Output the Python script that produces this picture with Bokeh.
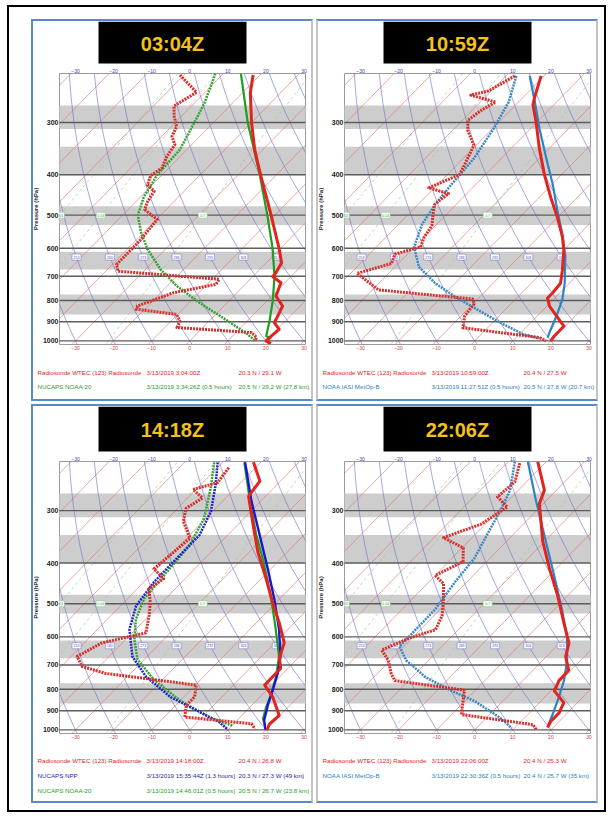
import numpy as np
from bokeh.plotting import figure
from bokeh.layouts import column, row
from bokeh.models import Range1d, LinearAxis, FixedTicker
from bokeh.core.properties import value
from bokeh.embed import file_html
from bokeh.resources import INLINE

# ---------------- data (pressure hPa, temperature degC) ----------------
# Panel 1 : 03:04Z  radiosonde + NUCAPS NOAA-20
p1_sonde_p = [231, 255, 300, 349, 400, 451, 500, 546, 600, 650, 687, 702, 726, 781, 825, 872, 904, 938, 982, 1000, 1015]
p1_sonde_T = [-51.8, -47.9, -40.0, -32.1, -24.2, -17.1, -11.0, -5.9, -0.4, 4.0, 5.1, 5.3, 9.0, 11.1, 15.4, 16.7, 17.5, 20.5, 20.1, 20.1, 22.0]
p1_sonde_td_p = [231, 254, 274, 290, 307, 324, 339, 362, 386, 402, 423, 438, 467, 485, 512, 541, 572, 604, 656, 681, 712, 732, 767, 825, 840, 864, 896, 929, 955, 982, 1000]
p1_sonde_Td = [-71.0, -62.2, -64.6, -61.9, -58.6, -57.3, -54.4, -53.5, -51.8, -52.8, -51.3, -47.9, -46.8, -45.6, -39.8, -39.4, -38.9, -38.9, -38.9, -36.8, -8.1, -7.7, -16.7, -22.7, -22.2, -10.3, -7.7, -6.8, 14.1, 16.7, 17.1]
p1_n20_p = [229, 300, 400, 500, 600, 700, 800, 900, 973, 987]
p1_n20_T = [-55.4, -41.0, -24.4, -12.0, -2.1, 5.6, 11.4, 16.0, 18.8, 20.8]
p1_n20_td_p = [229, 270, 300, 349, 400, 451, 500, 551, 604, 674, 739, 810, 888, 955, 982, 1000]
p1_n20_Td = [-62.1, -57.3, -55.0, -51.8, -51.3, -49.2, -46.0, -40.6, -34.6, -26.1, -17.5, -7.3, 3.8, 12.4, 15.4, 17.1]

# Panel 2 : 10:59Z  radiosonde + NOAA IASI MetOp-B
p2_sonde_p = [232, 261, 272, 300, 346, 400, 454, 506, 564, 607, 677, 728, 769, 790, 826, 922, 973, 1000]
p2_sonde_T = [-50.8, -47.0, -45.5, -40.1, -32.6, -24.5, -16.9, -10.1, -3.7, 0.1, 4.8, 7.7, 8.1, 8.1, 10.7, 19.6, 19.6, 20.0]
p2_sonde_td_p = [232, 252, 258, 268, 281, 296, 313, 340, 379, 400, 430, 444, 471, 497, 530, 564, 596, 620, 653, 689, 755, 794, 815, 873, 930, 982, 1000]
p2_sonde_Td = [-57.7, -60.7, -64.3, -56.0, -57.7, -58.6, -56.1, -50.6, -48.0, -46.8, -51.5, -44.8, -45.7, -43.6, -40.9, -40.0, -38.4, -43.3, -41.8, -48.3, -38.4, -11.3, -9.7, -9.0, -6.5, 16.2, 18.7]
p2_iasi_p = [232, 268, 310, 365, 422, 488, 554, 629, 728, 797, 873, 956, 982]
p2_iasi_T = [-53.8, -45.7, -37.7, -28.3, -19.8, -11.8, -4.6, 2.1, 8.8, 12.4, 15.1, 17.5, 18.3]
p2_iasi_td_p = [232, 268, 310, 365, 422, 471, 525, 596, 665, 728, 783, 842, 905, 964, 987]
p2_iasi_Td = [-57.3, -52.6, -49.7, -47.2, -46.4, -45.5, -43.9, -40.1, -33.7, -25.2, -16.7, -7.3, 2.1, 11.0, 16.4]

# Panel 3 : 14:18Z  radiosonde + NUCAPS NPP + NUCAPS NOAA-20
p3_sonde_p = [230, 255, 277, 330, 376, 436, 497, 555, 620, 674, 713, 782, 834, 924, 967, 1000]
p3_sonde_T = [-51.9, -45.4, -44.5, -35.0, -27.8, -18.7, -10.9, -4.0, 2.5, 5.1, 8.1, 8.2, 13.3, 19.8, 19.4, 20.3]
p3_sonde_td_p = [237, 257, 267, 280, 296, 318, 349, 413, 436, 461, 497, 535, 587, 620, 668, 706, 733, 782, 834, 874, 932, 967, 994]
p3_sonde_Td = [-57.0, -56.1, -60.8, -56.1, -57.8, -55.2, -49.1, -50.7, -45.6, -46.9, -43.0, -39.9, -36.4, -45.4, -48.4, -44.5, -36.7, -9.8, -7.2, -7.2, -4.6, 14.7, 16.8]
p3_npp_p = [230, 285, 343, 413, 487, 576, 668, 733, 804, 874, 949, 1000]
p3_npp_T = [-54.1, -42.4, -31.6, -20.8, -11.4, -2.3, 5.0, 8.6, 11.6, 14.2, 17.1, 19.9]
p3_npp_td_p = [230, 260, 301, 343, 398, 444, 506, 576, 668, 746, 834, 898, 958, 994]
p3_npp_Td = [-61.3, -56.1, -50.5, -47.4, -47.4, -47.3, -45.9, -41.6, -33.9, -25.2, -13.6, -3.3, 5.7, 9.5]
p3_n20_p = [230, 285, 343, 398, 487, 565, 668, 746, 819, 882, 941, 976]
p3_n20_T = [-54.3, -42.8, -32.5, -23.6, -12.2, -4.2, 4.6, 9.0, 12.1, 14.2, 16.4, 18.6]
p3_n20_td_p = [230, 265, 313, 362, 420, 487, 545, 609, 680, 760, 850, 932, 976]
p3_n20_Td = [-62.2, -56.5, -50.5, -47.4, -46.5, -45.6, -42.5, -37.7, -31.7, -22.2, -10.2, 1.8, 10.0]

# Panel 4 : 22:06Z  radiosonde + NOAA IASI MetOp-B
p4_sonde_p = [229, 268, 289, 355, 412, 478, 555, 621, 669, 721, 763, 807, 861, 911, 954, 987]
p4_sonde_T = [-52.3, -43.2, -41.0, -30.5, -21.8, -12.7, -4.1, 2.5, 5.1, 9.4, 9.5, 10.9, 16.4, 17.8, 17.8, 18.5]
p4_sonde_td_p = [231, 256, 278, 294, 323, 348, 368, 397, 428, 448, 497, 535, 577, 604, 645, 682, 735, 763, 804, 853, 919, 972, 1000]
p4_sonde_Td = [-56.6, -53.1, -53.8, -48.6, -51.1, -57.5, -49.7, -46.2, -50.0, -45.7, -40.9, -37.8, -36.0, -40.7, -44.9, -40.6, -36.3, -33.6, -12.9, -10.5, -7.4, 14.0, 16.2]
p4_iasi_p = [229, 284, 355, 428, 516, 599, 682, 763, 838, 919, 982]
p4_iasi_T = [-54.9, -42.7, -29.7, -18.8, -8.0, 0.3, 6.4, 10.8, 13.8, 16.5, 18.3]
p4_iasi_td_p = [229, 268, 300, 336, 390, 444, 516, 599, 633, 682, 749, 807, 853, 937, 991]
p4_iasi_Td = [-58.3, -52.2, -49.5, -47.2, -44.1, -43.1, -41.3, -41.2, -41.1, -35.9, -26.4, -16.1, -7.5, 3.7, 9.3]

titles = ["03:04Z", "10:59Z", "14:18Z", "22:06Z"]
pressure_ticks = [300, 400, 500, 600, 700, 800, 900, 1000]
temp_ticks = [-30, -20, -10, 0, 10, 20, 30]
shaded_layers = [(273, 311), (343, 400), (476, 528), (612, 675), (774, 865)]
isotherms = list(range(-120, 50, 10))
adiabat_T0 = list(range(-60, 130, 10))
mixing_ratios = [0.01, 0.04, 0.7]

legend1 = [("#d9272a", ["Radiosonde WTEC  (123) Radiosonde", "3/13/2019 3:04:00Z", "20.3 N / 29.1 W"]),
           ("#2c9c2c", ["NUCAPS NOAA-20", "3/13/2019 3:34:26Z (0.5 hours)", "20.5 N / 29.2 W (27.8 km)"])]
legend2 = [("#d9272a", ["Radiosonde WTEC  (123) Radiosonde", "3/13/2019 10:59:00Z", "20.4 N / 27.5 W"]),
           ("#2e80c2", ["NOAA IASI MetOp-B", "3/13/2019 11:27:51Z (0.5 hours)", "20.5 N / 27.8 W (20.7 km)"])]
legend3 = [("#d9272a", ["Radiosonde WTEC  (123) Radiosonde", "3/13/2019 14:18:00Z", "20.4 N / 26.8 W"]),
           ("#1d1db8", ["NUCAPS NPP", "3/13/2019 15:35:44Z (1.3 hours)", "20.3 N / 27.3 W (49 km)"]),
           ("#2c9c2c", ["NUCAPS NOAA-20", "3/13/2019 14:46:01Z (0.5 hours)", "20.5 N / 26.7 W (23.8 km)"])]
legend4 = [("#d9272a", ["Radiosonde WTEC  (123) Radiosonde", "3/13/2019 22:06:00Z", "20.4 N / 25.3 W"]),
           ("#2e80c2", ["NOAA IASI MetOp-B", "3/13/2019 22:30:36Z (0.5 hours)", "20.4 N / 25.7 W (35 km)"])]

# ---------------- geometry / style ----------------
K = 46.7                    # skew (degC per ln-pressure unit)
X_RANGE = (-34.2, 30.4)
P_RANGE = (1020, 229)
PW = 278                    # panel inner width
SHIFT = 4                   # skew plot pulled left into the panel margin
FH = 272
BL, BR = 24, 2
FONT = "Liberation Sans"
RED, RED_D = "#e3231d", "#d8302b"
GREEN, GREEN_D = "#1f9f1f", "#34a334"
BLUE, BLUE_D = "#2b84c6", "#3a88c4"
NAVY, NAVY_D = "#1818d0", "#2424c8"
PANEL_BLUE = "#5b88c8"
PANEL_GRAY = "#c4c4c4"

def skew(T, p):
    p = np.asarray(p, dtype=float)
    return np.asarray(T, dtype=float) + K * np.log(1000.0 / p)

def blank(w, h):
    f = figure(width=w, height=h, x_range=Range1d(0, w), y_range=Range1d(h, 0), output_backend="svg",
               toolbar_location=None, min_border=0, min_border_left=0, min_border_right=0,
               min_border_top=0, min_border_bottom=0, x_axis_location=None, y_axis_location=None,
               outline_line_color=None, background_fill_color="white", border_fill_color="white")
    f.xgrid.visible = False
    f.ygrid.visible = False
    return f

def make_header(title, hh, box_h):
    h = blank(PW, hh)
    h.quad(left=[65], right=[213], top=[0], bottom=[box_h], fill_color="black", line_color=None)
    h.text(x=[139], y=[box_h / 2 + 1], text=[title], text_align="center", text_baseline="middle",
           text_color="#f4c21a", text_font_size="20px", text_font_style="bold", text_font=value(FONT))
    return h

def make_footer(legend, fh, row_y):
    f = blank(PW, fh)
    for (color, cols), ry in zip(legend, row_y):
        f.text(x=[4, 113, 205], y=[ry] * 3, text=cols, text_align="left", text_baseline="middle",
               text_color=color, text_font_size="6.2px", text_font=value(FONT))
    return f

def make_skew(profiles, bt, bb):
    p = figure(width=PW + SHIFT, height=bt + FH + bb, x_range=Range1d(*X_RANGE), y_range=Range1d(*P_RANGE),
               y_axis_type="log", output_backend="svg", toolbar_location=None,
               min_border_left=BL, min_border_right=BR, min_border_top=bt, min_border_bottom=bb,
               background_fill_color="white", border_fill_color=None,
               outline_line_color="#9a9a9a", outline_line_width=1)
    p.xgrid.visible = False
    p.ygrid.visible = False

    p.quad(left=-300, right=300, bottom=[a for a, b in shaded_layers], top=[b for a, b in shaded_layers],
           fill_color="#cdcdcd", line_color=None)
    pp = np.geomspace(1100, 200, 60)
    p.multi_line(xs=[list(skew(T, pp)) for T in isotherms], ys=[list(pp)] * len(isotherms),
                 line_color="#e07a7a", line_width=0.8, line_alpha=0.85)
    ad_xs = []
    for T0 in adiabat_T0:
        th = T0 + 273.15
        ad_xs.append(list(th * (pp / 1000.0) ** 0.2857 - 273.15 + K * np.log(1000.0 / pp)))
    p.multi_line(xs=ad_xs, ys=[list(pp)] * len(ad_xs), line_color="#7474c8", line_width=0.8, line_alpha=0.8)
    mr_xs = []
    for w in mixing_ratios:
        e = w * pp / (622.0 + w)
        le = np.log(e / 6.112)
        mr_xs.append(list(skew(243.5 * le / (17.67 - le), pp)))
    p.multi_line(xs=mr_xs, ys=[list(pp)] * len(mr_xs), line_color="#9ccc9c", line_width=0.8,
                 line_dash="3 3", line_alpha=0.9)
    p.segment(x0=-300, x1=300, y0=pressure_ticks, y1=pressure_ticks, line_color="#5c5c5c", line_width=1.4)

    pl = 630.0
    lab_x = [(T0 + 273.15) * (pl / 1000.0) ** 0.2857 - 273.15 + K * np.log(1000.0 / pl) for T0 in adiabat_T0]
    keep = [(x, f"{T0 + 273}") for x, T0 in zip(lab_x, adiabat_T0) if X_RANGE[0] + 1 < x < X_RANGE[1] - 1]
    p.rect(x=[k[0] for k in keep], y=[pl] * len(keep), width=9, height=6, width_units="screen",
           height_units="screen", fill_color="white", line_color="#8080d0", line_width=0.6)
    p.text(x=[k[0] for k in keep], y=[pl] * len(keep), text=[k[1] for k in keep], text_font_size="3.5px",
           text_align="center", text_baseline="middle", text_color="#5050b0")
    pm = 500.0
    mx = []
    for w in mixing_ratios:
        e = w * pm / (622.0 + w)
        le = np.log(e / 6.112)
        mx.append(float(skew(243.5 * le / (17.67 - le), pm)))
    p.rect(x=mx, y=[pm] * len(mx), width=9, height=6, width_units="screen", height_units="screen",
           fill_color="white", line_color="#8cc48c", line_width=0.6)
    p.text(x=mx, y=[pm] * len(mx), text=[str(w) for w in mixing_ratios], text_font_size="3.5px",
           text_align="center", text_baseline="middle", text_color="#4a9a4a")

    for pr in profiles:
        p.line(x=list(skew(pr["T"], pr["p"])), y=pr["p"], line_color=pr["color"], line_width=pr["width"],
               line_dash=pr.get("dash", "solid"), line_join="round")

    xa = p.xaxis[0]
    xa.ticker = FixedTicker(ticks=temp_ticks)
    xa.major_label_text_color = "#d04040"
    xa.major_label_text_font_size = "5px"
    xa.axis_line_color = None
    xa.major_tick_out = 0
    xa.major_tick_in = 0
    xa.minor_tick_out = 0
    xa.major_label_standoff = 1
    top = LinearAxis(ticker=FixedTicker(ticks=temp_ticks), major_label_text_color="#4040c0",
                     major_label_text_font_size="5px", axis_line_color=None, major_tick_out=0,
                     major_tick_in=0, minor_tick_out=0, minor_tick_in=0, major_label_standoff=1)
    p.add_layout(top, "above")
    ya = p.yaxis[0]
    ya.ticker = FixedTicker(ticks=pressure_ticks)
    ya.major_label_overrides = {t: str(t) for t in pressure_ticks}
    ya.major_label_text_font_size = "7px"
    ya.major_label_text_font_style = "bold"
    ya.major_label_text_font = FONT
    ya.major_label_text_color = "#222222"
    ya.axis_label = "Pressure (hPa)"
    ya.axis_label_text_font = FONT
    ya.axis_label_text_font_size = "6px"
    ya.axis_label_text_font_style = "bold"
    ya.axis_label_text_color = "#222222"
    ya.axis_label_standoff = 1
    ya.axis_line_color = None
    ya.major_tick_out = 0
    ya.major_tick_in = 0
    ya.minor_tick_out = 0
    ya.minor_tick_in = 0
    ya.major_label_standoff = 1
    return p

def prof(pv, T, color, width, dash="solid"):
    return dict(p=pv, T=T, color=color, width=width, dash=dash)

panel_profiles = [
    [prof(p1_n20_td_p, p1_n20_Td, GREEN_D, 2.5, "2 1"), prof(p1_n20_p, p1_n20_T, GREEN, 2.2),
     prof(p1_sonde_td_p, p1_sonde_Td, RED_D, 3, "2 1"), prof(p1_sonde_p, p1_sonde_T, RED, 3)],
    [prof(p2_iasi_td_p, p2_iasi_Td, BLUE_D, 2.5, "2 1"), prof(p2_iasi_p, p2_iasi_T, BLUE, 2.2),
     prof(p2_sonde_td_p, p2_sonde_Td, RED_D, 3, "2 1"), prof(p2_sonde_p, p2_sonde_T, RED, 3)],
    [prof(p3_n20_td_p, p3_n20_Td, GREEN_D, 2.5, "2 1"), prof(p3_npp_td_p, p3_npp_Td, NAVY_D, 2.5, "2 1"),
     prof(p3_n20_p, p3_n20_T, GREEN, 2.2), prof(p3_npp_p, p3_npp_T, NAVY, 2.4),
     prof(p3_sonde_td_p, p3_sonde_Td, RED_D, 3, "2 1"), prof(p3_sonde_p, p3_sonde_T, RED, 3)],
    [prof(p4_iasi_td_p, p4_iasi_Td, BLUE_D, 2.5, "2 1"), prof(p4_iasi_p, p4_iasi_T, BLUE, 2.2),
     prof(p4_sonde_td_p, p4_sonde_Td, RED_D, 3, "2 1"), prof(p4_sonde_p, p4_sonde_T, RED, 3)],
]
legends = [legend1, legend2, legend3, legend4]

# top row: header 44, skew 7+272+8, footer 47 ; bottom row: header 46, skew 9+272+8, footer 60
ROWS = [dict(hh=44, box=42, bt=7, bb=8, fh=47, rows=[20, 34]),
        dict(hh=46, box=45, bt=9, bb=8, fh=60, rows=[19, 34, 49])]

panels = []
for i in range(4):
    r = ROWS[i // 2]
    left_side = (i % 2 == 0)
    st = {"border": f"2px solid {PANEL_BLUE}", "border-right-color": PANEL_GRAY,
          "background-color": "white"}
    if not left_side:
        st["border-left-color"] = PANEL_GRAY
    panels.append(column(row(make_header(titles[i], r["hh"], r["box"])),
                         row(make_skew(panel_profiles[i], r["bt"], r["bb"]),
                             styles={"margin-left": f"-{SHIFT}px"}),
                         row(make_footer(legends[i], r["fh"], r["rows"])),
                         spacing=0, styles=st))

layout = column(row(panels[0], panels[1], spacing=3), row(panels[2], panels[3], spacing=3), spacing=3,
                styles={"border": "2px solid black", "padding": "12px 6px 7px 22px",
                        "margin-left": "7px", "margin-top": "5px", "background-color": "white"})

open("out.html", "w").write(file_html(layout, INLINE))
